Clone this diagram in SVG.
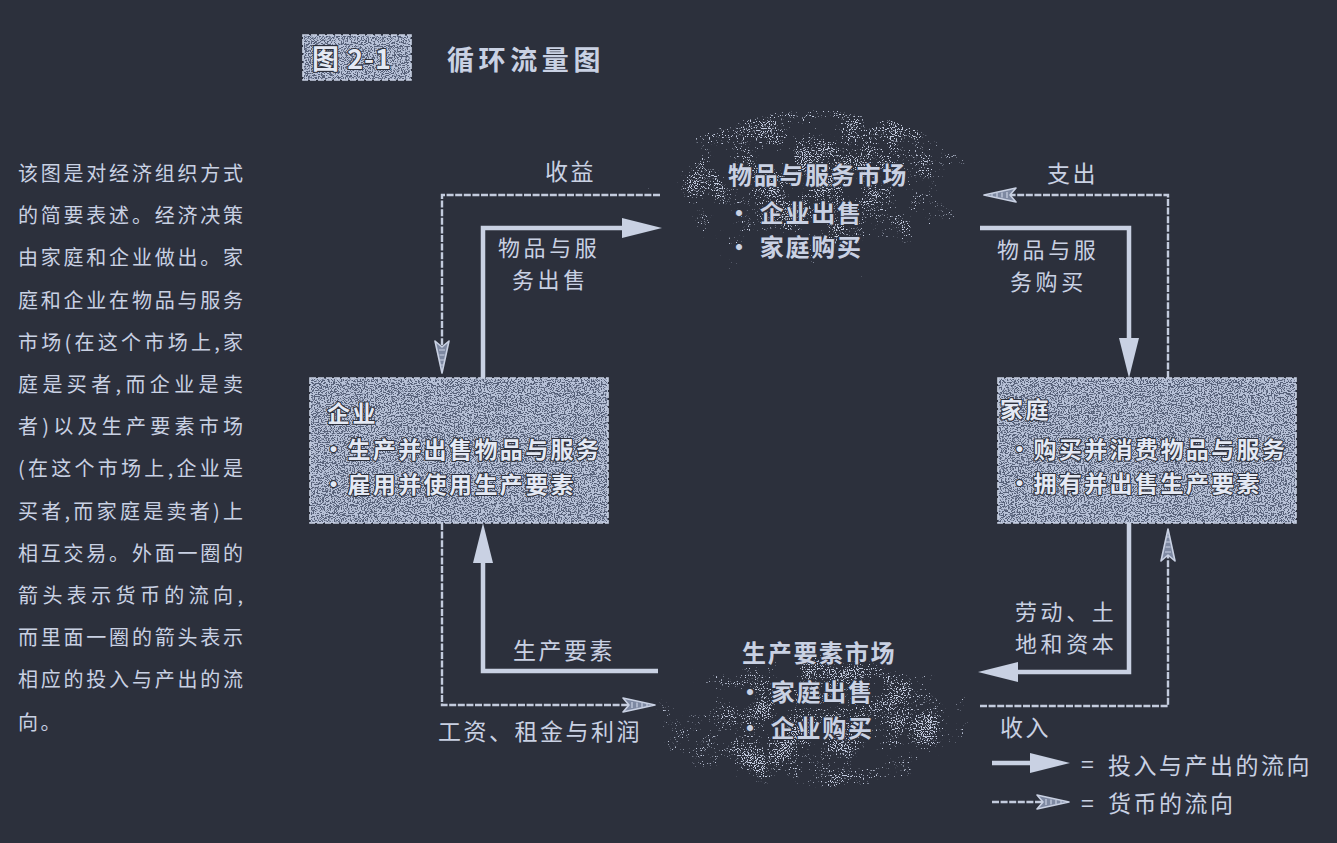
<svg xmlns="http://www.w3.org/2000/svg" width="1337" height="843" viewBox="0 0 1337 843">
<defs>
<style>
text{font-family:"Noto Sans CJK SC","Noto Sans",sans-serif;fill:#c9d1e3}
.side{font-size:20px}
.lbl{font-size:23px;letter-spacing:2.5px}
.lbl2{font-size:22px;letter-spacing:3.6px}
.mk{font-size:24px;font-weight:bold;letter-spacing:1.7px;stroke:#2c303c;stroke-width:2px;paint-order:stroke;stroke-linejoin:round}
.bx{font-size:23px;font-weight:bold;letter-spacing:2.4px;fill:#e4e9f4;stroke:#2c303c;stroke-width:2.2px;paint-order:stroke;stroke-linejoin:round}
.flow{fill:none;stroke:#c9d1e3;stroke-width:4.5}
.money{fill:none;stroke:#c3cbdd;stroke-width:2.4;stroke-dasharray:7 1.6}
.boxbase{fill:#566078}
.boxedge{fill:none;stroke:#c9d1e3;stroke-width:1.6;stroke-dasharray:6 2}
</style>
<filter id="speck" x="0" y="0" width="100%" height="100%" color-interpolation-filters="sRGB">
<feTurbulence type="fractalNoise" baseFrequency="0.85" numOctaves="1" seed="5" result="n"/>
<feColorMatrix in="n" type="matrix" values="0 0 0 0 0  0 0 0 0 0  0 0 0 0 0  1 0 0 0 0" result="na"/>
<feTurbulence type="fractalNoise" baseFrequency="0.035" numOctaves="2" seed="9" result="lo"/>
<feColorMatrix in="lo" type="matrix" values="0 0 0 0 0  0 0 0 0 0  0 0 0 0 0  1 0 0 0 0" result="loa"/>
<feComposite in="na" in2="SourceAlpha" operator="arithmetic" k1="1" k2="0" k3="0" k4="0" result="prod"/>
<feComposite in="prod" in2="loa" operator="arithmetic" k1="1" k2="0.5" k3="0" k4="0" result="prod2"/>
<feComponentTransfer in="prod2" result="th"><feFuncA type="linear" slope="12" intercept="-6.9"/></feComponentTransfer>
<feFlood flood-color="#c4cce0"/>
<feComposite in2="th" operator="in"/>
</filter>
<filter id="speckBox" x="0" y="0" width="100%" height="100%" color-interpolation-filters="sRGB">
<feTurbulence type="fractalNoise" baseFrequency="0.7 1.1" numOctaves="1" seed="11" result="n"/>
<feColorMatrix in="n" type="matrix" values="0 0 0 0 0  0 0 0 0 0  0 0 0 0 0  1 0 0 0 0" result="na"/>
<feComponentTransfer in="na" result="th"><feFuncA type="linear" slope="12" intercept="-5.2"/></feComponentTransfer>
<feFlood flood-color="#b8c2d8"/>
<feComposite in2="th" operator="in"/>
</filter>
<radialGradient id="cloudTop" cx="0.5" cy="0.3" r="0.65">
<stop offset="0" stop-color="#fff" stop-opacity="1"/>
<stop offset="0.5" stop-color="#fff" stop-opacity="0.9"/>
<stop offset="1" stop-color="#fff" stop-opacity="0.45"/>
</radialGradient>
<radialGradient id="cloudBot" cx="0.5" cy="0.58" r="0.6">
<stop offset="0" stop-color="#fff" stop-opacity="1"/>
<stop offset="0.55" stop-color="#fff" stop-opacity="0.92"/>
<stop offset="1" stop-color="#fff" stop-opacity="0.45"/>
</radialGradient>
<marker id="arr" viewBox="0 0 40 20" refX="20" refY="10" markerWidth="40" markerHeight="20" markerUnits="userSpaceOnUse" orient="auto">
<path d="M0,0 L40,10 L0,20 Z" fill="#c9d1e3"/>
</marker>
<marker id="marr" viewBox="0 0 36 16" refX="16" refY="8" markerWidth="36" markerHeight="16" markerUnits="userSpaceOnUse" orient="auto">
<path d="M35,8 L3,1 L9,8 L3,15 Z" fill="#7e89a2" stroke="#c9d1e3" stroke-width="1.6" stroke-linejoin="round"/>
<path d="M12,5 V11 M17,5.5 V10.5 M22,6 V10 M27,6.5 V9.5" stroke="#c9d1e3" stroke-width="1.2"/>
</marker>
</defs>
<rect width="1337" height="843" fill="#2c303c"/>

<g id="title">
<rect x="303" y="35" width="108" height="45" class="boxbase"/>
<rect x="303" y="35" width="108" height="45" filter="url(#speckBox)" fill="#000"/>
<rect x="303" y="35" width="108" height="45" class="boxedge"/>
<text x="312" y="69" class="bx" style="font-size:27px;letter-spacing:1px">图 2-1</text>
<text x="447" y="70" style="font-size:27px;font-weight:bold;letter-spacing:4.6px">循环流量图</text>
</g>

<g id="caption" class="side">
<text x="18" y="181" textLength="225" lengthAdjust="spacing">该图是对经济组织方式</text>
<text x="18" y="223" textLength="225" lengthAdjust="spacing">的简要表述。经济决策</text>
<text x="18" y="265" textLength="225" lengthAdjust="spacing">由家庭和企业做出。家</text>
<text x="18" y="308" textLength="225" lengthAdjust="spacing">庭和企业在物品与服务</text>
<text x="18" y="350" textLength="225" lengthAdjust="spacing">市场(在这个市场上,家</text>
<text x="18" y="392" textLength="225" lengthAdjust="spacing">庭是买者,而企业是卖</text>
<text x="18" y="434" textLength="225" lengthAdjust="spacing">者)以及生产要素市场</text>
<text x="18" y="476" textLength="225" lengthAdjust="spacing">(在这个市场上,企业是</text>
<text x="18" y="519" textLength="225" lengthAdjust="spacing">买者,而家庭是卖者)上</text>
<text x="18" y="561" textLength="225" lengthAdjust="spacing">相互交易。外面一圈的</text>
<text x="18" y="603" textLength="225" lengthAdjust="spacing">箭头表示货币的流向,</text>
<text x="18" y="645" textLength="225" lengthAdjust="spacing">而里面一圈的箭头表示</text>
<text x="18" y="687" textLength="225" lengthAdjust="spacing">相应的投入与产出的流</text>
<text x="18" y="730" style="letter-spacing:2.5px">向。</text>
</g>

<g id="goods-market">
<ellipse cx="815" cy="210" rx="172" ry="100" fill="url(#cloudTop)" filter="url(#speck)"/>
<text x="728" y="184" class="mk">物品与服务市场</text>
<text x="727" y="222" class="mk">• 企业出售</text>
<text x="727" y="256" class="mk">• 家庭购买</text>
</g>

<g id="factor-market">
<ellipse cx="815" cy="710" rx="175" ry="78" fill="url(#cloudBot)" filter="url(#speck)"/>
<text x="742" y="662" class="mk">生产要素市场</text>
<text x="738" y="701" class="mk">• 家庭出售</text>
<text x="738" y="737" class="mk">• 企业购买</text>
</g>

<g id="firms">
<rect x="310" y="378" width="298" height="145" class="boxbase"/>
<rect x="310" y="378" width="298" height="145" fill="#000" filter="url(#speckBox)"/>
<rect x="310" y="378" width="298" height="145" class="boxedge"/>
<text x="327" y="422" class="bx">企业</text>
<text x="322" y="458" class="bx">•生产并出售物品与服务</text>
<text x="322" y="493" class="bx">•雇用并使用生产要素</text>
</g>

<g id="households">
<rect x="998" y="378" width="298" height="145" class="boxbase"/>
<rect x="998" y="378" width="298" height="145" fill="#000" filter="url(#speckBox)"/>
<rect x="998" y="378" width="298" height="145" class="boxedge"/>
<text x="1000" y="418" class="bx">家庭</text>
<text x="1008" y="458" class="bx">•购买并消费物品与服务</text>
<text x="1008" y="492" class="bx">•拥有并出售生产要素</text>
</g>

<g id="connectors">
<path class="flow" d="M483,378 V228 H642" marker-end="url(#arr)"/>
<path class="flow" d="M980,228 H1129 V358" marker-end="url(#arr)"/>
<path class="flow" d="M1129,523 V672 H998" marker-end="url(#arr)"/>
<path class="flow" d="M658,671 H483 V543" marker-end="url(#arr)"/>
<path class="money" d="M660,195 H442 V354" marker-end="url(#marr)"/>
<path class="money" d="M1168,378 V195 H1003" marker-end="url(#marr)"/>
<path class="money" d="M980,706 H1168 V548" marker-end="url(#marr)"/>
<path class="money" d="M442,523 V705 H636" marker-end="url(#marr)"/>
</g>

<g id="labels">
<text class="lbl" x="545" y="180">收益</text>
<text class="lbl2" x="498" y="256">物品与服</text>
<text class="lbl2" x="512" y="288">务出售</text>
<text class="lbl" x="1047" y="182">支出</text>
<text class="lbl2" x="997" y="258">物品与服</text>
<text class="lbl2" x="1010" y="290">务购买</text>
<text class="lbl2" x="1015" y="620">劳动、土</text>
<text class="lbl2" x="1015" y="652">地和资本</text>
<text class="lbl" x="1000" y="736">收入</text>
<text class="lbl" x="513" y="659">生产要素</text>
<text class="lbl" x="438" y="740">工资、租金与利润</text>
</g>

<g id="legend">
<path class="flow" d="M992,763 H1050" marker-end="url(#arr)"/>
<text x="1081" y="773" class="lbl">=</text>
<text x="1108" y="774" class="lbl">投入与产出的流向</text>
<path class="money" d="M992,802 H1050" marker-end="url(#marr)"/>
<text x="1081" y="812" class="lbl">=</text>
<text x="1108" y="812" class="lbl">货币的流向</text>
</g>
</svg>
